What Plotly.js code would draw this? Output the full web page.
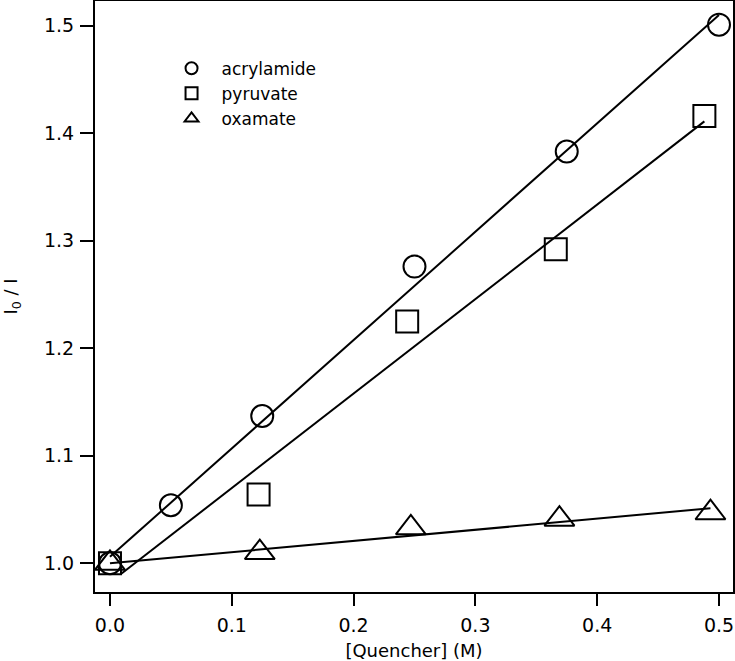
<!DOCTYPE html>
<html>
<head>
<meta charset="utf-8">
<script src="https://cdn.plot.ly/plotly-3.0.1.min.js"></script>
<style>html,body{margin:0;padding:0;background:#fff;}#chart{width:735px;height:661px;}</style>
</head>
<body>
<div id="chart"></div>
<script>
// Measured data
const acrylamideX = [0, 0.05, 0.125, 0.25, 0.375, 0.5];
const acrylamideY = [1.0, 1.054, 1.137, 1.276, 1.383, 1.501];
const pyruvateX = [0, 0.122, 0.244, 0.366, 0.488];
const pyruvateY = [1.0, 1.064, 1.225, 1.292, 1.416];
const oxamateX = [0, 0.123, 0.247, 0.369, 0.493];
const oxamateY = [1.0, 1.010, 1.033, 1.041, 1.047];

// Fit line endpoints
const acrylamideFitX = [0, 0.5];
const acrylamideFitY = [1.006, 1.510];
const pyruvateFitX = [0.009, 0.488];
const pyruvateFitY = [0.990, 1.411];
const oxamateFitX = [0, 0.493];
const oxamateFitY = [1.0, 1.0512];

const tickVals = [0, 0.1, 0.2, 0.3, 0.4, 0.5];
const yTickVals = [1.0, 1.1, 1.2, 1.3, 1.4, 1.5];

const FONT = 'DejaVu Sans, sans-serif';

function fit(x, y) {
  return {x: x, y: y, mode: 'lines', type: 'scatter', showlegend: false,
          line: {color: '#000', width: 2}, hoverinfo: 'skip'};
}
function pts(x, y, name, symbol, size) {
  return {x: x, y: y, mode: 'markers', type: 'scatter', name: name,
          marker: {symbol: symbol, size: size, color: 'rgba(0,0,0,0)',
                   line: {color: '#000', width: 2}}};
}

const data = [
  fit(acrylamideFitX, acrylamideFitY),
  fit(pyruvateFitX, pyruvateFitY),
  fit(oxamateFitX, oxamateFitY),
  pts(acrylamideX, acrylamideY, 'acrylamide', 'circle', 22),
  pts(pyruvateX, pyruvateY, 'pyruvate', 'square', 22),
  pts(oxamateX, oxamateY, 'oxamate', 'triangle-up', 26)
];

const layout = {
  width: 735, height: 661,
  margin: {l: 95, r: 2, t: 1, b: 69},
  paper_bgcolor: '#fff', plot_bgcolor: '#fff',
  font: {family: FONT, color: '#000', size: 18},
  showlegend: true,
  legend: {x: 0.1043, y: 0.916, xanchor: 'left', yanchor: 'top',
           bgcolor: 'rgba(0,0,0,0)', itemsizing: 'constant', itemwidth: 50,
           font: {family: FONT, size: 17, color: '#000'}},
  xaxis: {
    range: [-0.0123, 0.5115], tickvals: tickVals, tickformat: '.1f',
    ticks: 'outside', ticklen: 12, tickwidth: 2, tickcolor: '#000',
    showline: true, linewidth: 2, linecolor: '#000', mirror: true,
    showgrid: false, zeroline: false, ticklabelstandoff: 3,
    tickfont: {family: FONT, size: 19},
    title: {text: '[Quencher] (M)', font: {family: FONT, size: 18}, standoff: 12}
  },
  yaxis: {
    range: [0.9733, 1.523], tickvals: yTickVals, tickformat: '.1f',
    ticks: 'outside', ticklen: 13, tickwidth: 2, tickcolor: '#000',
    showline: true, linewidth: 2, linecolor: '#000', mirror: true,
    showgrid: false, zeroline: false, ticklabelstandoff: 2,
    tickfont: {family: FONT, size: 19},
    title: {text: 'I<sub>0</sub> / I', font: {family: FONT, size: 18}, standoff: 22}
  }
};

Plotly.newPlot('chart', data, layout, {displayModeBar: false, staticPlot: true});
</script>
</body>
</html>
